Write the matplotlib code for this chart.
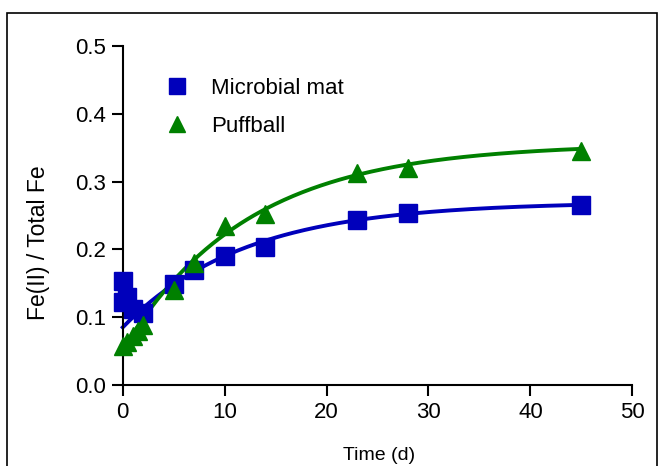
import numpy as np
import matplotlib
matplotlib.use("Agg")
import matplotlib.pyplot as plt
from matplotlib.patches import Rectangle

plt.rcParams['font.family'] = ['Liberation Sans', 'DejaVu Sans']

# ------------------------------------------------------------
# Data
# ------------------------------------------------------------
mat_t = [0.0, 0.0, 0.4, 1.0, 2.0, 5.0, 7.0, 10.0, 14.0, 23.0, 28.0, 45.0]
mat_y = [0.153, 0.122, 0.130, 0.112, 0.106, 0.149, 0.170, 0.190, 0.204, 0.244, 0.253, 0.266]

puff_t = [0.0, 0.4, 1.0, 1.5, 2.0, 5.0, 7.0, 10.0, 14.0, 23.0, 28.0, 45.0]
puff_y = [0.058, 0.063, 0.072, 0.080, 0.088, 0.140, 0.180, 0.234, 0.252, 0.313, 0.320, 0.345]

# first-order fit parameters: y = y0 + (ymax - y0) * (1 - exp(-k t))
mat_fit = dict(y0=0.085, ymax=0.270, k=0.084)
puff_fit = dict(y0=0.052, ymax=0.356, k=0.082)

x_ticks = [0, 10, 20, 30, 40, 50]
y_ticks = [0.0, 0.1, 0.2, 0.3, 0.4, 0.5]

BLUE = '#0000bb'
GREEN = '#008000'


def fit_curve(t, y0, ymax, k):
    return y0 + (ymax - y0) * (1 - np.exp(-k * t))


fig = plt.figure(figsize=(6.6, 4.66), dpi=100)
ax = fig.add_axes([0.186, 0.174, 0.772, 0.727])

# outer frame around figure
fig.patches.append(Rectangle((7 / 660, -0.05), 650 / 660, 1.05 - 13 / 466,
                             transform=fig.transFigure, fill=False,
                             edgecolor='black', linewidth=1.2))

tt = np.linspace(0, 45, 200)
ax.plot(tt, fit_curve(tt, **mat_fit), color=BLUE, lw=2.8, clip_on=False)
ax.plot(tt, fit_curve(tt, **puff_fit), color=GREEN, lw=2.8, clip_on=False)

ax.plot(mat_t, mat_y, 's', color=BLUE, ms=12.5, mec=BLUE, clip_on=False,
        label='Microbial mat', zorder=3)
ax.plot(puff_t, puff_y, '^', color=GREEN, ms=12.5, mec=GREEN, clip_on=False,
        label='Puffball', zorder=3)

ax.set_xlim(0, 50)
ax.set_ylim(0, 0.5)
ax.set_xticks(x_ticks)
ax.set_yticks(y_ticks)
ax.set_yticklabels([f'{v:.1f}' for v in y_ticks])
ax.tick_params(direction='out', length=8, width=1.5, labelsize=16, pad=4)
for side in ['top', 'right']:
    ax.spines[side].set_visible(False)
for side in ['left', 'bottom']:
    ax.spines[side].set_linewidth(1.5)

ax.set_xlabel('Time (d)', fontsize=14)
ax.xaxis.set_label_coords(0.503, -0.183)
ax.set_ylabel('Fe(II) / Total Fe', fontsize=16.5)
ax.yaxis.set_label_coords(-0.143, 0.42)

ax.legend(loc='upper left', bbox_to_anchor=(0.045, 0.965), frameon=False,
          fontsize=16, handlelength=1.0, handletextpad=1.05, labelspacing=0.75,
          markerscale=0.95)

fig.savefig('out.png', dpi=100)
